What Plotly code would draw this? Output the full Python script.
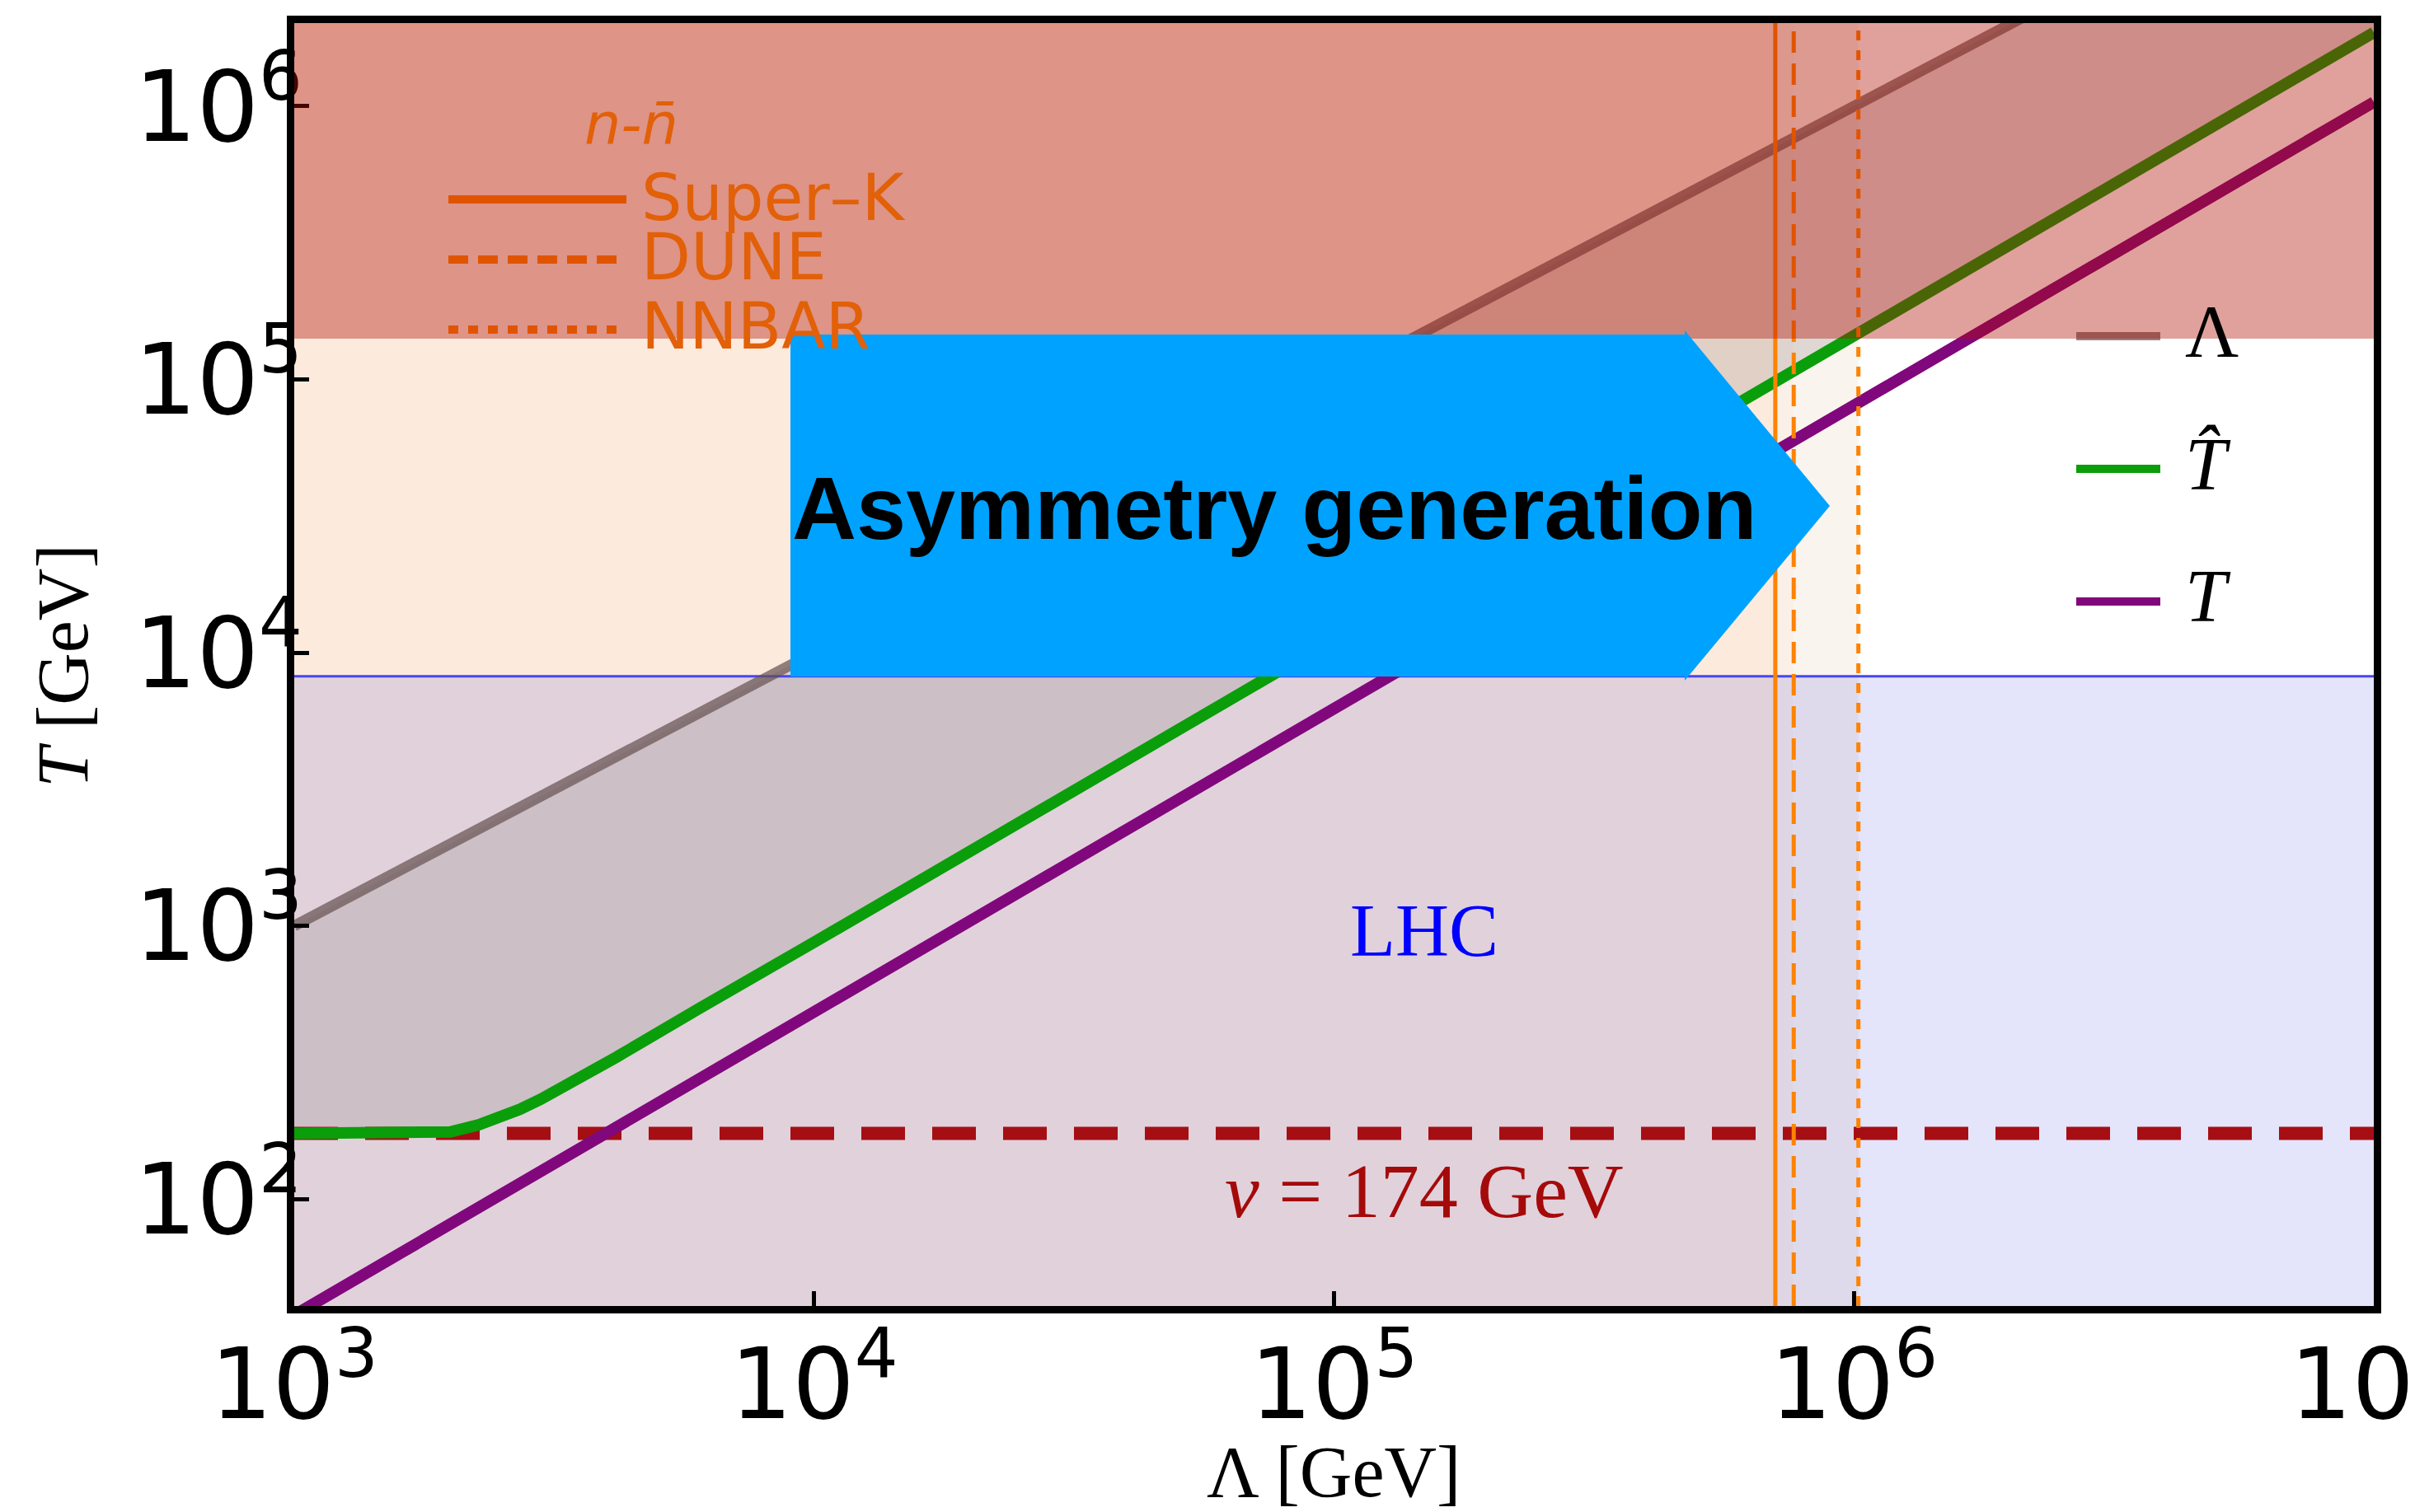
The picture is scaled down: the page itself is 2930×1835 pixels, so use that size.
import plotly.graph_objects as go

# ---------------- data ----------------
# Lambda curve: T = Lambda
lam_line_x = [1e3, 1e7]
lam_line_y = [1e3, 1e7]

# T-hat curve
that_x = [1000, 1778, 1995, 2265, 2483, 2716, 2979, 3266, 3631, 4169, 5998, 1e4, 1e5, 1e6, 1e7]
that_y = [174, 174, 176, 187, 199, 213, 232, 254, 284, 331, 497, 871, 11220, 144500, 1862000]

# T curve
t_x = [1e3, 1e4, 1e5, 1e6, 1e7]
t_y = [37.6, 484, 6240, 80400, 1035000]

# reference levels / bounds
v_ew = 174            # GeV, electroweak vev line
lhc_T = 8200          # LHC reach
upper_T = 1.41e5      # upper excluded band
nnbar_names = ["Super\u2013K", "DUNE", "NNBAR"]
nnbar_lambda = [7.06e5, 7.66e5, 1.02e6]
nnbar_dash = ["solid", "26px,13px", "12px,12px"]
nnbar_fill = ["rgb(252,234,220)", "rgb(250,240,232)", "rgb(249,244,238)"]

x_range = [1e3, 1e7]
y_range = [40.6, 2.016e6]

# ---------------- figure ----------------
W, H = 2930, 1835
ML, MR, MT, MB = 349, 58, 20, 258
PW, PH = W - ML - MR, H - MT - MB


def px(x):
    return (x - ML) / PW


def py(y):
    return (H - MB - y) / PH


ORANGE = "rgb(255,130,0)"
ORANGE_T = "rgb(226,96,8)"
LAM_C = "rgba(100,80,80,0.7)"
THAT_C = "rgb(10,158,10)"
T_C = "rgb(128,8,124)"

fig = go.Figure()

# Gray band between Lambda and T-hat
fig.add_trace(go.Scatter(x=lam_line_x, y=lam_line_y, mode="lines",
                         line=dict(width=0, color="rgba(0,0,0,0)"),
                         showlegend=False, hoverinfo="skip"))
fig.add_trace(go.Scatter(x=that_x, y=that_y, mode="lines",
                         line=dict(width=0, color="rgba(0,0,0,0)"),
                         fill="tonexty", fillcolor="rgba(160,150,150,0.3)",
                         showlegend=False, hoverinfo="skip"))

# LHC boundary line
fig.add_trace(go.Scatter(x=x_range, y=[lhc_T, lhc_T], mode="lines",
                         line=dict(color="rgb(70,70,245)", width=3),
                         showlegend=False, hoverinfo="skip"))

# v = 174 GeV dashed
fig.add_trace(go.Scatter(x=x_range, y=[v_ew, v_ew], mode="lines",
                         line=dict(color="rgb(165,15,20)", width=16, dash="53px,33px"),
                         showlegend=False, hoverinfo="skip"))

# curves
fig.add_trace(go.Scatter(x=lam_line_x, y=lam_line_y, mode="lines",
                         line=dict(color=LAM_C, width=13), showlegend=False))
fig.add_trace(go.Scatter(x=t_x, y=t_y, mode="lines",
                         line=dict(color=T_C, width=14), showlegend=False))
fig.add_trace(go.Scatter(x=that_x, y=that_y, mode="lines",
                         line=dict(color=THAT_C, width=14), showlegend=False))

# n-nbar vertical lines
for lam, dash in zip(nnbar_lambda, nnbar_dash):
    fig.add_trace(go.Scatter(x=[lam, lam], y=y_range, mode="lines",
                             line=dict(color=ORANGE, width=5, dash=dash),
                             showlegend=False, hoverinfo="skip"))

shapes = []
# peach exclusion regions (below traces)
prev = x_range[0]
for lam, col in zip(nnbar_lambda, nnbar_fill):
    shapes.append(dict(type="rect", xref="x", yref="y domain", x0=prev, x1=lam, y0=0, y1=1,
                       fillcolor=col, line=dict(width=0), layer="below"))
    prev = lam
# LHC region overlay
shapes.append(dict(type="rect", xref="x domain", yref="y", x0=0, x1=1, y0=y_range[0], y1=lhc_T,
                   fillcolor="rgba(30,30,213,0.12)", line=dict(width=0), layer="below"))

# left legend line samples (n-nbar)
leg_y = [234, 307, 392]
for yy, dash in zip(leg_y, ["solid", "24px,12px", "12px,12px"]):
    shapes.append(dict(type="line", xref="paper", yref="paper",
                       x0=px(536), x1=px(752), y0=py(yy), y1=py(yy),
                       line=dict(color=ORANGE, width=10, dash=dash), layer="above"))
# right legend line samples
rleg_y = [400, 561, 722]
for yy, col in zip(rleg_y, [LAM_C, THAT_C, T_C]):
    shapes.append(dict(type="line", xref="paper", yref="paper",
                       x0=px(2511), x1=px(2613), y0=py(yy), y1=py(yy),
                       line=dict(color=col, width=10), layer="above"))

# upper red band overlay (above traces)
shapes.append(dict(type="rect", xref="x domain", yref="y", x0=0, x1=1, y0=upper_T, y1=y_range[1] * 1.2,
                   fillcolor="rgba(176,12,0,0.39)", line=dict(width=0), layer="above"))

# "Asymmetry generation" arrow
ax0, ax1, ax2 = px(951), px(2036), px(2212)
ay_t, ay_tt, ay_b, ay_bb, ay_m = py(398), py(393), py(813), py(818), py(606)
arrow_path = (f"M{ax0},{ay_t} L{ax1},{ay_t} L{ax1},{ay_tt} L{ax2},{ay_m} "
              f"L{ax1},{ay_bb} L{ax1},{ay_b} L{ax0},{ay_b} Z")
shapes.append(dict(type="path", xref="paper", yref="paper", path=arrow_path,
                   fillcolor="rgb(0,162,255)", line=dict(width=0), layer="above"))

annotations = []


def ann(text, x, y, size, color="black", family="Liberation Serif", xanchor="center", **kw):
    annotations.append(dict(text=text, x=x, y=y, xref="paper", yref="paper",
                            xanchor=xanchor, yanchor="middle", showarrow=False,
                            font=dict(size=size, color=color, family=family), **kw))


# left legend texts
ann("<i>n-n\u0304</i>", px(758), py(143), 70, ORANGE_T, "DejaVu Sans")
for name, yy in zip(nnbar_names, [232, 304, 388]):
    ann(name, px(768), py(yy), 78, ORANGE_T, "DejaVu Sans", xanchor="left")

# right legend texts
ann("\u039b", px(2641), py(394), 90, "black", xanchor="left")
ann("<i>T\u0302</i>", px(2641), py(555), 90, "black", xanchor="left")
ann("<i>T</i>", px(2641), py(715), 90, "black", xanchor="left")

# region labels
ann("LHC", px(1720), py(1121), 90, "rgb(0,0,255)")
ann("<i>v</i> = 174 GeV", px(1720), py(1437), 94, "rgb(165,10,10)")

# arrow text
ann("<b>Asymmetry generation</b>", px(1538), py(608), 108, "black", "Liberation Sans")

# axis titles
ann("\u039b [GeV]", px(1610), py(1779), 88, "black")
ann("<i>T</i> [GeV]", px(68), py(800), 88, "black", textangle=-90)

axis_common = dict(type="log", dtick=1, exponentformat="power", showgrid=False, zeroline=False,
                   showline=True, linecolor="black", linewidth=9, mirror=True,
                   ticks="inside", ticklen=18, tickwidth=5, tickcolor="black",
                   tickfont=dict(family="DejaVu Sans", size=95, color="black"),
                   ticklabeloverflow="allow", automargin=False)

fig.update_layout(
    width=W, height=H,
    margin=dict(l=ML, r=MR, t=MT, b=MB, pad=0, autoexpand=False),
    paper_bgcolor="white", plot_bgcolor="white",
    showlegend=False,
    xaxis=dict(range=[3, 7], ticklabelstandoff=-11, **axis_common),
    yaxis=dict(range=[1.6085, 6.3045], ticklabelstandoff=-38, **axis_common),
    shapes=shapes, annotations=annotations,
)

fig.write_html("out.html")
